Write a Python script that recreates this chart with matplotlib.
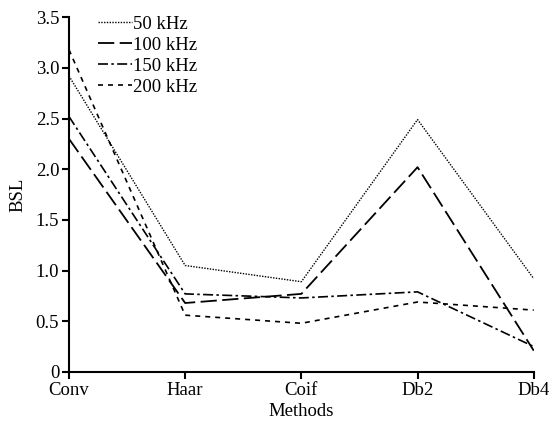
import matplotlib
matplotlib.use("Agg")
import matplotlib.pyplot as plt
from matplotlib.ticker import FuncFormatter

plt.rcParams["font.family"] = ["Liberation Serif", "DejaVu Serif"]
plt.rcParams["font.size"] = 13.5

methods = ["Conv", "Haar", "Coif", "Db2", "Db4"]
bsl_50 = [2.92, 1.05, 0.89, 2.49, 0.92]
bsl_100 = [2.30, 0.68, 0.77, 2.02, 0.21]
bsl_150 = [2.52, 0.77, 0.73, 0.79, 0.25]
bsl_200 = [3.18, 0.56, 0.48, 0.69, 0.61]
labels = ["50 kHz", "100 kHz", "150 kHz", "200 kHz"]

fig = plt.figure(figsize=(5.56, 4.29), dpi=100)
ax = fig.add_axes([0.124, 0.133, 0.836, 0.827])

x = range(len(methods))
ax.plot(x, bsl_50, color="black", lw=1.0, ls=(0, (1, 1)), label=labels[0])
ax.plot(x, bsl_100, color="black", lw=1.3, ls=(0, (9, 3)), label=labels[1])
ax.plot(x, bsl_150, color="black", lw=1.2, ls=(0, (6, 2, 1.5, 2)), label=labels[2])
ax.plot(x, bsl_200, color="black", lw=1.2, ls=(0, (3, 3)), label=labels[3])

ax.set_xlim(0, len(methods) - 1)
ax.set_ylim(0, 3.5)
ax.set_xticks(list(x))
ax.set_xticklabels(methods)
ax.set_yticks([0, 0.5, 1.0, 1.5, 2.0, 2.5, 3.0, 3.5])
ax.yaxis.set_major_formatter(FuncFormatter(lambda v, p: "0" if v == 0 else f"{v:.1f}"))

for side in ["top", "right"]:
    ax.spines[side].set_visible(False)
for side in ["left", "bottom"]:
    ax.spines[side].set_linewidth(1.5)
ax.tick_params(direction="out", length=5, width=1.5, pad=2)

ax.set_xlabel("Methods", labelpad=3)
ax.set_ylabel("BSL", labelpad=7)

ax.legend(loc="upper left", bbox_to_anchor=(0.046, 1.025), frameon=False,
          handlelength=1.8, handletextpad=0.1, labelspacing=0.2,
          borderaxespad=0.0)

fig.savefig("out.png", dpi=100)
